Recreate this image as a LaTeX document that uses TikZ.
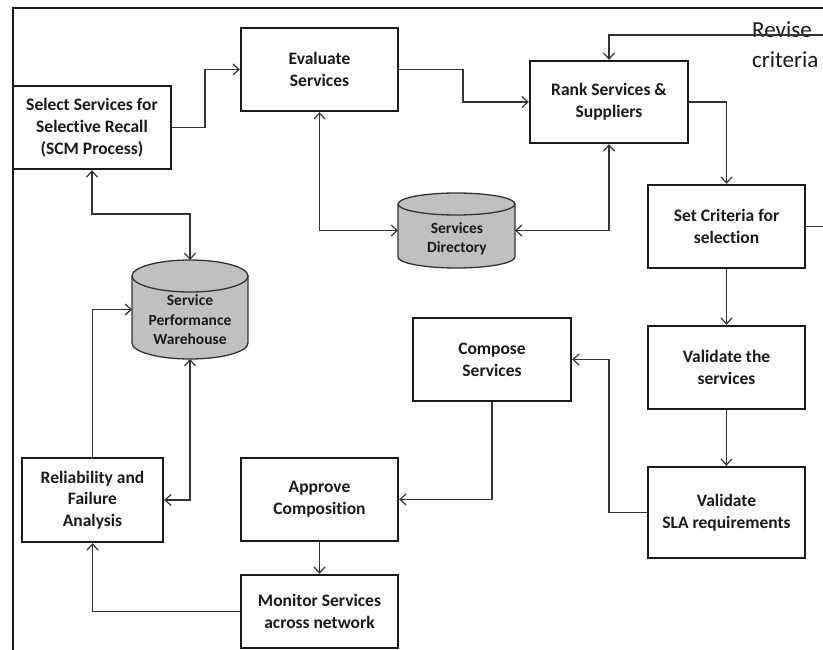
\documentclass[tikz,border=0pt]{standalone}
\usepackage{fontspec}
\setmainfont{Carlito}[Ligatures=NoCommon]
\usetikzlibrary{arrows.meta}
\definecolor{ink}{HTML}{1A1A1A}
\definecolor{wire}{HTML}{333333}
\definecolor{drum}{HTML}{C0C0C0}

\begin{document}
\begin{tikzpicture}[x=1pt,y=-1pt,
  boxfont/.style={text=ink, font=\fontsize{17.5}{21.7}\selectfont\bfseries, align=center},
  stepbox/.style={boxfont, draw=ink, line width=2.4pt, fill=white, inner sep=0pt},
  storetext/.style={text=ink, font=\fontsize{15.5}{19.5}\selectfont\bfseries, align=center},
  store/.style={inner sep=0pt, outer sep=0pt},
  drumline/.style={fill=drum, draw=wire, line width=1.3pt},
  tip/.tip={Straight Barb[length=6pt,width=11pt]},
  plain/.style={draw=wire, line width=1.2pt},
  conn/.style={plain, -tip},
  both/.style={plain, tip-tip},
]
\useasboundingbox (0,0) rectangle (823,650);

% outer frame
\draw[ink, line width=2pt] (13,650) -- (13,8) -- (823,8);

% feedback label (the return line runs through it)
\node[text=ink, font=\fontsize{23}{30}\selectfont, align=left, anchor=base west, inner sep=0pt] (revise) at (752,68) {Revise\\criteria};
\coordinate (revin) at (823,35);
\coordinate (revout) at (823,226.5);

% process steps
\node[stepbox, minimum width=158pt, minimum height=83pt] (sel)  at (92,127.5)   {Select Services for\\Selective Recall\\(SCM Process)};
\node[stepbox, minimum width=157pt, minimum height=83pt] (eval) at (319.5,69.5) {Evaluate\\Services};
\node[stepbox, minimum width=158pt, minimum height=82pt] (rank) at (609,102)    {Rank Services \&\\Suppliers};
\node[stepbox, minimum width=157pt, minimum height=83pt] (set)  at (726.5,226.5) {Set Criteria for\\selection};
\node[stepbox, minimum width=157pt, minimum height=83pt] (val)  at (726.5,367.5) {Validate the\\services};
\node[stepbox, minimum width=157pt, minimum height=91pt] (sla)  at (726.5,512.5) {Validate\\SLA requirements};
\node[stepbox, minimum width=158pt, minimum height=83pt] (comp) at (492,359.5)  {Compose\\Services};
\node[stepbox, minimum width=157pt, minimum height=83pt] (appr) at (319.5,499.5) {Approve\\Composition};
\node[stepbox, minimum width=157pt, minimum height=73pt] (mon)  at (319.5,611.5) {Monitor Services\\across network};
\node[stepbox, minimum width=141pt, minimum height=84pt] (rel)  at (92.5,500)   {Reliability and\\Failure\\Analysis};

% data stores (cylinders)
\node[store, minimum width=116pt, minimum height=99pt] (wh) at (190,309.5) {};
\path[drumline] (132,276) -- (132,343) arc[start angle=180, end angle=0, x radius=58, y radius=16] -- (248,276) -- cycle;
\path[drumline] (190,276) ellipse[x radius=58, y radius=16];
\node[storetext] (whlabel) at (190,320) {Service\\Performance\\Warehouse};

\node[store, minimum width=117pt, minimum height=75pt] (dir) at (456.5,230.5) {};
\path[drumline] (398,204) -- (398,257) arc[start angle=180, end angle=0, x radius=58.5, y radius=11] -- (515,204) -- cycle;
\path[drumline] (456.5,204) ellipse[x radius=58.5, y radius=11];
\node[storetext] (dirlabel) at (457,239) {Services\\Directory};

% connectors
\draw[conn] (sel.east) -- (205,127.5) |- (eval.west);
\draw[conn] (eval.east) -- (463,69.5) |- (rank.west);
\draw[conn] (rank.east) -| (set.north);
\draw[conn] (revin) -| (rank.north);
\draw[plain] (set.east) -- (revout);
\draw[conn] (set.south) -- (val.north);
\draw[conn] (val.south) -- (sla.north);
\draw[conn] (sla.west) -- (609,512.5) |- (comp.east);
\draw[conn] (comp.south) |- (appr.east);
\draw[conn] (appr.south) -- (mon.north);
\draw[conn] (mon.west) -| (rel.south);
\draw[conn] (rel.north) |- (wh.west);
\draw[both] (wh.south) |- (rel.east);
\draw[both] (sel.south) -- (92,214) -| (wh.north);
\draw[both] (eval.south) |- (dir.west);
\draw[both] (rank.south) |- (dir.east);
\end{tikzpicture}
\end{document}
